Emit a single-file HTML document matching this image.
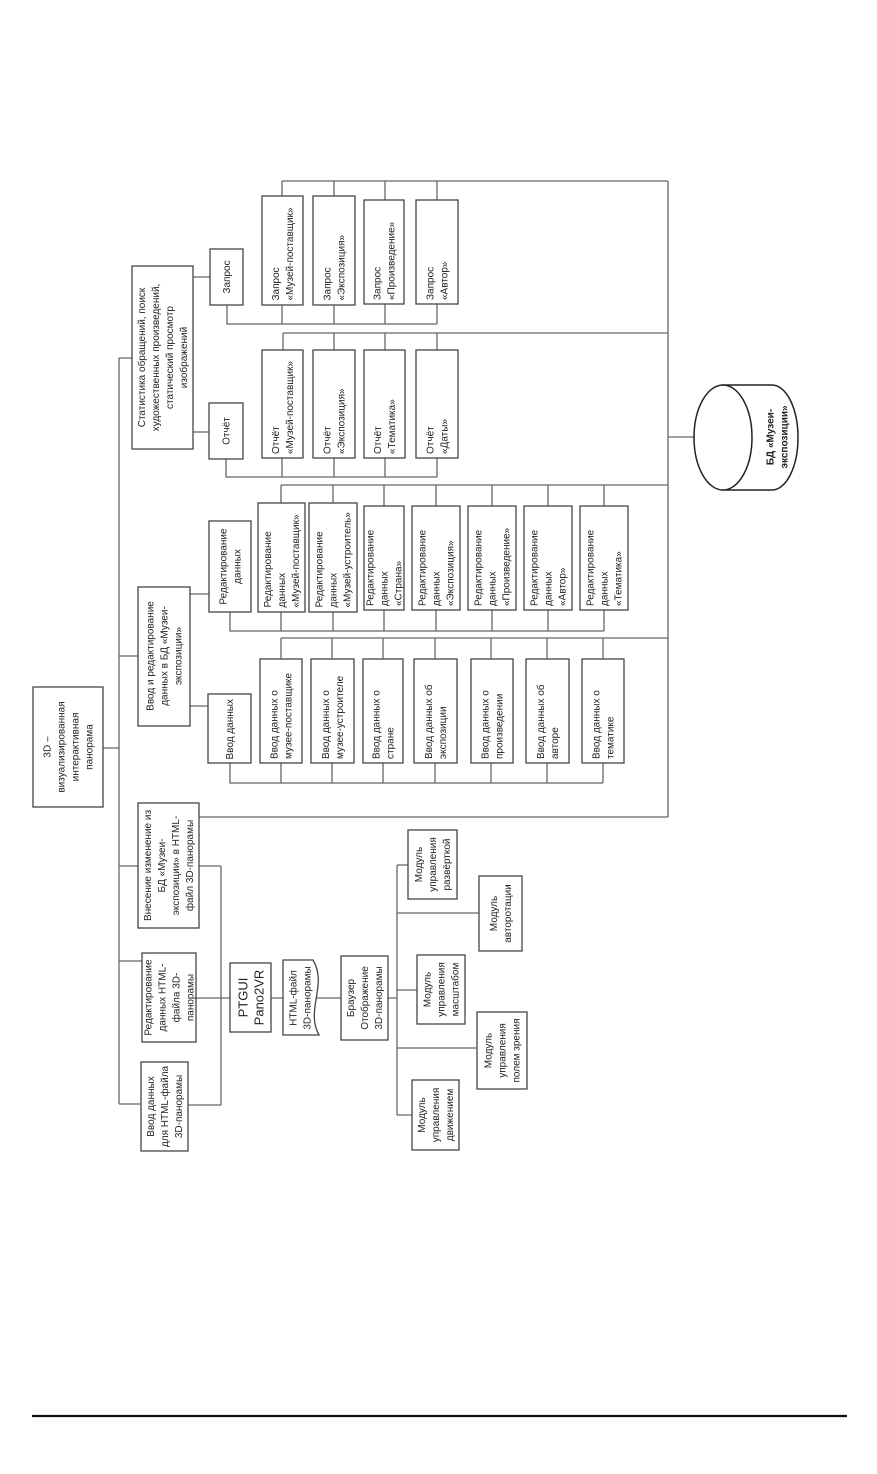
<!DOCTYPE html>
<html><head><meta charset="utf-8"><style>
html,body{margin:0;padding:0;background:#fff}
svg{display:block}
text{font-family:"Liberation Sans",sans-serif;font-size:10px;fill:#222}
.b{fill:#fff;stroke:#444;stroke-width:1.3}
.l{stroke:#666;stroke-width:1.3;fill:none}
</style></head><body>
<svg width="877" height="1474" viewBox="0 0 877 1474" xmlns="http://www.w3.org/2000/svg">
<!-- lines -->
<g class="l">
<path d="M119,358V1104 M119,358H132 M119,656H138 M103,748H119 M119,866H138 M119,961H142 M119,1104H141"/>
<path d="M221,866V1105 M199,866H221 M196,998H230 M188,1105H221 M271,998H285 M316,998H341 M388,998H397"/>
<path d="M397,865V1115 M397,865H408 M397,913H479 M397,990H417 M397,1048H477 M397,1115H412"/>
<path d="M199,817H668 M668,181V817 M668,437H694"/>
<path d="M193,277H210 M193,432H209 M190,594H209 M190,706H208"/>
<!-- Zapros group -->
<path d="M282,181H668 M282,181V196 M334,181V196 M385,181V200 M437,181V200"/>
<path d="M227,305V324H437 M282,305V324 M334,305V324 M385,304V324 M437,304V324"/>
<!-- Otchet group -->
<path d="M283,333H668 M283,333V350 M334,333V350 M385,333V350 M437,333V350"/>
<path d="M226,459V477H437 M282,458V477 M334,458V477 M385,458V477 M437,458V477"/>
<!-- Edit group -->
<path d="M281,485H668 M281,485V503 M333,485V503 M384,485V506 M436,485V506 M492,485V506 M548,485V506 M604,485V506"/>
<path d="M230,612V631H604 M281,612V631 M333,612V631 M384,610V631 M436,610V631 M492,610V631 M548,610V631 M604,610V631"/>
<!-- Input group -->
<path d="M281,638H668 M281,638V659 M332,638V659 M383,638V659 M435,638V659 M491,638V659 M547,638V659 M603,638V659"/>
<path d="M230,763V783H603 M281,763V783 M332,763V783 M383,763V783 M435,763V783 M491,763V783 M547,763V783 M603,763V783"/>
</g>
<line x1="32" y1="1416" x2="847" y2="1416" stroke="#111" stroke-width="2.2"/>

<!-- boxes -->
<g class="b">
<rect x="33" y="687" width="70" height="120"/>
<rect x="132" y="266" width="61" height="183"/>
<rect x="138" y="587" width="52" height="139"/>
<rect x="138" y="803" width="61" height="125"/>
<rect x="142" y="953" width="54" height="89"/>
<rect x="141" y="1062" width="47" height="89"/>
<rect x="230" y="963" width="41" height="69"/>
<path d="M283,960 L313,960 C328,985 305,1010 319,1035 L283,1035 Z"/>
<rect x="341" y="956" width="47" height="84"/>
<rect x="408" y="830" width="49" height="69"/>
<rect x="479" y="876" width="43" height="75"/>
<rect x="417" y="955" width="48" height="69"/>
<rect x="477" y="1012" width="50" height="77"/>
<rect x="412" y="1080" width="47" height="70"/>
<rect x="210" y="249" width="33" height="56"/>
<rect x="209" y="403" width="34" height="56"/>
<rect x="262" y="196" width="41" height="109"/>
<rect x="313" y="196" width="42" height="109"/>
<rect x="364" y="200" width="40" height="104"/>
<rect x="416" y="200" width="42" height="104"/>
<rect x="262" y="350" width="41" height="108"/>
<rect x="313" y="350" width="42" height="108"/>
<rect x="364" y="350" width="41" height="108"/>
<rect x="416" y="350" width="42" height="108"/>
<rect x="209" y="521" width="42" height="91"/>
<rect x="258" y="503" width="47" height="109"/>
<rect x="309" y="503" width="48" height="109"/>
<rect x="364" y="506" width="40" height="104"/>
<rect x="412" y="506" width="48" height="104"/>
<rect x="468" y="506" width="48" height="104"/>
<rect x="524" y="506" width="48" height="104"/>
<rect x="580" y="506" width="48" height="104"/>
<rect x="208" y="694" width="43" height="69"/>
<rect x="260" y="659" width="42" height="104"/>
<rect x="311" y="659" width="43" height="104"/>
<rect x="363" y="659" width="40" height="104"/>
<rect x="414" y="659" width="43" height="104"/>
<rect x="471" y="659" width="42" height="104"/>
<rect x="526" y="659" width="43" height="104"/>
<rect x="582" y="659" width="42" height="104"/>
</g>
<!-- cylinder -->
<g fill="#fff" stroke="#222" stroke-width="1.5">
<path d="M723,385 L772,385 A26,52.5 0 0 1 772,490 L723,490 Z"/>
<ellipse cx="723" cy="437.5" rx="29" ry="52.5"/>
</g>
<text transform="translate(777,437) rotate(-90)" text-anchor="middle" style="font-weight:bold;font-size:10px"><tspan x="0" y="-3.5">БД «Музеи-</tspan><tspan x="0" y="10.5">экспозиции»</tspan></text>

<!-- texts centered -->
<g text-anchor="middle">
<text transform="translate(68,747) rotate(-90)"><tspan x="0" y="-17.5">3D –</tspan><tspan x="0" y="-3.5">визуализированная</tspan><tspan x="0" y="10.5">интерактивная</tspan><tspan x="0" y="24.5">панорама</tspan></text>
<text transform="translate(162.5,357.5) rotate(-90)"><tspan x="0" y="-17.5">Статистика обращений, поиск</tspan><tspan x="0" y="-3.5">художественных произведений,</tspan><tspan x="0" y="10.5">статический просмотр</tspan><tspan x="0" y="24.5">изображений</tspan></text>
<text transform="translate(164,656) rotate(-90)"><tspan x="0" y="-10.5">Ввод и редактирование</tspan><tspan x="0" y="3.5">данных в БД «Музеи-</tspan><tspan x="0" y="17.5">экспозиции»</tspan></text>
<text transform="translate(168.5,865.5) rotate(-90)"><tspan x="0" y="-17.5">Внесение изменение из</tspan><tspan x="0" y="-3.5">БД «Музеи-</tspan><tspan x="0" y="10.5">экспозиции» в HTML-</tspan><tspan x="0" y="24.5">файл 3D-панорамы</tspan></text>
<text transform="translate(169,997.5) rotate(-90)"><tspan x="0" y="-17.5">Редактирование</tspan><tspan x="0" y="-3.5">данных HTML-</tspan><tspan x="0" y="10.5">файла 3D-</tspan><tspan x="0" y="24.5">панорамы</tspan></text>
<text transform="translate(164.5,1106.5) rotate(-90)"><tspan x="0" y="-10.5">Ввод данных</tspan><tspan x="0" y="3.5">для HTML-файла</tspan><tspan x="0" y="17.5">3D-панорамы</tspan></text>
<text transform="translate(250.5,997.5) rotate(-90)" style="font-size:13px"><tspan x="0" y="-3">PTGUI</tspan><tspan x="0" y="13">Pano2VR</tspan></text>
<text transform="translate(300,998) rotate(-90)"><tspan x="0" y="-3.5">HTML-файл</tspan><tspan x="0" y="10.5">3D-панорамы</tspan></text>
<text transform="translate(364.5,998) rotate(-90)"><tspan x="0" y="-10.5">Браузер</tspan><tspan x="0" y="3.5">Отображение</tspan><tspan x="0" y="17.5">3D-панорамы</tspan></text>
<text transform="translate(432.5,864.5) rotate(-90)"><tspan x="0" y="-10.5">Модуль</tspan><tspan x="0" y="3.5">управления</tspan><tspan x="0" y="17.5">развёрткой</tspan></text>
<text transform="translate(500.5,913.5) rotate(-90)"><tspan x="0" y="-3.5">Модуль</tspan><tspan x="0" y="10.5">авторотации</tspan></text>
<text transform="translate(441,989.5) rotate(-90)"><tspan x="0" y="-10.5">Модуль</tspan><tspan x="0" y="3.5">управления</tspan><tspan x="0" y="17.5">масштабом</tspan></text>
<text transform="translate(502,1050.5) rotate(-90)"><tspan x="0" y="-10.5">Модуль</tspan><tspan x="0" y="3.5">управления</tspan><tspan x="0" y="17.5">полем зрения</tspan></text>
<text transform="translate(435.5,1115) rotate(-90)"><tspan x="0" y="-10.5">Модуль</tspan><tspan x="0" y="3.5">управления</tspan><tspan x="0" y="17.5">движением</tspan></text>
<text transform="translate(226.5,277) rotate(-90)"><tspan x="0" y="3.5">Запрос</tspan></text>
<text transform="translate(226,431) rotate(-90)"><tspan x="0" y="3.5">Отчёт</tspan></text>
<text transform="translate(230,566.5) rotate(-90)"><tspan x="0" y="-3.5">Редактирование</tspan><tspan x="0" y="10.5">данных</tspan></text>
</g>

<!-- texts start-aligned (from bottom of box) -->
<g>
<text transform="translate(282.5,250.5) rotate(-90)"><tspan x="-50" y="-3.5">Запрос</tspan><tspan x="-50" y="10.5">«Музей-поставщик»</tspan></text>
<text transform="translate(334,250.5) rotate(-90)"><tspan x="-50" y="-3.5">Запрос</tspan><tspan x="-50" y="10.5">«Экспозиция»</tspan></text>
<text transform="translate(384,252) rotate(-90)"><tspan x="-48" y="-3.5">Запрос</tspan><tspan x="-48" y="10.5">«Произведение»</tspan></text>
<text transform="translate(437,252) rotate(-90)"><tspan x="-48" y="-3.5">Запрос</tspan><tspan x="-48" y="10.5">«Автор»</tspan></text>
<text transform="translate(282.5,404) rotate(-90)"><tspan x="-50" y="-3.5">Отчёт</tspan><tspan x="-50" y="10.5">«Музей-поставщик»</tspan></text>
<text transform="translate(334,404) rotate(-90)"><tspan x="-50" y="-3.5">Отчёт</tspan><tspan x="-50" y="10.5">«Экспозиция»</tspan></text>
<text transform="translate(384.5,404) rotate(-90)"><tspan x="-50" y="-3.5">Отчёт</tspan><tspan x="-50" y="10.5">«Тематика»</tspan></text>
<text transform="translate(437,404) rotate(-90)"><tspan x="-50" y="-3.5">Отчёт</tspan><tspan x="-50" y="10.5">«Даты»</tspan></text>
<text transform="translate(281.5,557.5) rotate(-90)"><tspan x="-50" y="-10.5">Редактирование</tspan><tspan x="-50" y="3.5">данных</tspan><tspan x="-50" y="17.5">«Музей-поставщик»</tspan></text>
<text transform="translate(333,557.5) rotate(-90)"><tspan x="-50" y="-10.5">Редактирование</tspan><tspan x="-50" y="3.5">данных</tspan><tspan x="-50" y="17.5">«Музей-устроитель»</tspan></text>
<text transform="translate(384,558) rotate(-90)"><tspan x="-48" y="-10.5">Редактирование</tspan><tspan x="-48" y="3.5">данных</tspan><tspan x="-48" y="17.5">«Страна»</tspan></text>
<text transform="translate(436,558) rotate(-90)"><tspan x="-48" y="-10.5">Редактирование</tspan><tspan x="-48" y="3.5">данных</tspan><tspan x="-48" y="17.5">«Экспозиция»</tspan></text>
<text transform="translate(492,558) rotate(-90)"><tspan x="-48" y="-10.5">Редактирование</tspan><tspan x="-48" y="3.5">данных</tspan><tspan x="-48" y="17.5">«Произведение»</tspan></text>
<text transform="translate(548,558) rotate(-90)"><tspan x="-48" y="-10.5">Редактирование</tspan><tspan x="-48" y="3.5">данных</tspan><tspan x="-48" y="17.5">«Автор»</tspan></text>
<text transform="translate(604,558) rotate(-90)"><tspan x="-48" y="-10.5">Редактирование</tspan><tspan x="-48" y="3.5">данных</tspan><tspan x="-48" y="17.5">«Тематика»</tspan></text>
<text transform="translate(229.5,728.5) rotate(-90)"><tspan x="-31" y="3.5">Ввод данных</tspan></text>
<text transform="translate(281,711) rotate(-90)"><tspan x="-48" y="-3.5">Ввод данных о</tspan><tspan x="-48" y="10.5">музее-поставщике</tspan></text>
<text transform="translate(332.5,711) rotate(-90)"><tspan x="-48" y="-3.5">Ввод данных о</tspan><tspan x="-48" y="10.5">музее-устроителе</tspan></text>
<text transform="translate(383,711) rotate(-90)"><tspan x="-48" y="-3.5">Ввод данных о</tspan><tspan x="-48" y="10.5">стране</tspan></text>
<text transform="translate(435.5,711) rotate(-90)"><tspan x="-48" y="-3.5">Ввод данных об</tspan><tspan x="-48" y="10.5">экспозиции</tspan></text>
<text transform="translate(492,711) rotate(-90)"><tspan x="-48" y="-3.5">Ввод данных о</tspan><tspan x="-48" y="10.5">произведении</tspan></text>
<text transform="translate(547.5,711) rotate(-90)"><tspan x="-48" y="-3.5">Ввод данных об</tspan><tspan x="-48" y="10.5">авторе</tspan></text>
<text transform="translate(603,711) rotate(-90)"><tspan x="-48" y="-3.5">Ввод данных о</tspan><tspan x="-48" y="10.5">тематике</tspan></text>
</g>
</svg>
</body></html>
